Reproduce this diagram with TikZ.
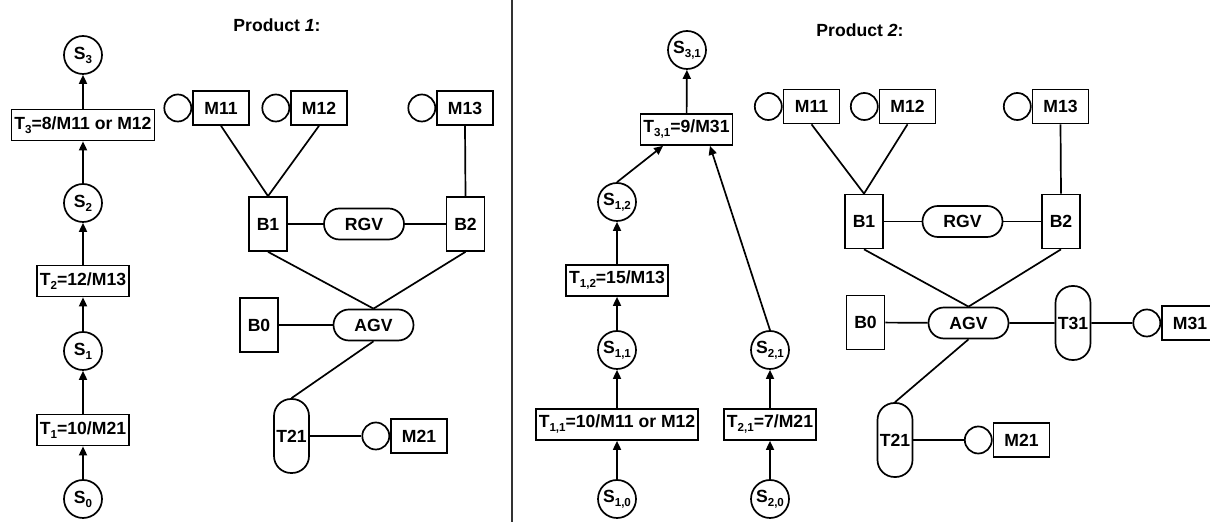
\documentclass[tikz,border=0pt]{standalone}
\usepackage{fontspec}
\setmainfont{Liberation Sans}
\usepackage{tikz}
\usetikzlibrary{arrows.meta, positioning, calc}

\newcommand{\lowsub}[1]{\raisebox{-2pt}{\fontsize{5.8}{5.8}\selectfont #1}}

\tikzset{
  state/.style={draw, circle, minimum size=19pt, inner sep=0pt},
  task/.style={draw, rectangle, inner xsep=1.5pt, inner ysep=0pt, minimum height=15.5pt},
  mach/.style={draw, rectangle, minimum width=28pt, minimum height=17pt, inner sep=0pt},
  ring/.style={draw, circle, minimum size=13.5pt, inner sep=0pt},
  buf/.style={draw, rectangle, minimum width=19pt, minimum height=27pt, inner sep=0pt},
  vehicle/.style={draw, rounded corners=7.7pt, minimum width=40pt, minimum height=15.5pt, inner sep=0pt},
  tower/.style={draw, rounded corners=8.5pt, minimum width=17.5pt, minimum height=37pt, inner sep=0pt},
  flow/.style={-{Triangle[length=4.5pt,width=4pt]}}
}

\begin{document}
\begin{tikzpicture}[x=0.5pt, y=-0.5pt, line width=0.85pt, font=\fontsize{8.8}{10}\selectfont\bfseries]
        \useasboundingbox (0,0) rectangle (1210,522);

        % Product 1: operation chain
        \node[state] (s3) at (83, 55) {S\lowsub{3}};
        \node[task] (t3) at (83, 125) {T\lowsub{3}=8/M11 or M12};
        \node[state] (s2) at (83, 203) {S\lowsub{2}};
        \node[task] (t2) at (83, 281) {T\lowsub{2}=12/M13};
        \node[state] (s1) at (83, 351) {S\lowsub{1}};
        \node[task] (t1) at (83, 430) {T\lowsub{1}=10/M21};
        \node[state] (s0) at (83, 499) {S\lowsub{0}};

        \draw[flow] (s0) -- (t1);
        \draw[flow] (t1) -- (s1);
        \draw[flow] (s1) -- (t2);
        \draw[flow] (t2) -- (s2);
        \draw[flow] (s2) -- (t3);
        \draw[flow] (t3) -- (s3);

        % Product 1: cell layout
        \node (title1) at (277, 25) {Product \textit{1}:};
        \node[mach] (am11) at (221, 108) {M11};
        \node[ring, left=0pt of am11] (ar11) {};
        \node[mach] (am12) at (319, 108) {M12};
        \node[ring, left=0pt of am12] (ar12) {};
        \node[mach] (am13) at (465, 108) {M13};
        \node[ring, left=0pt of am13] (ar13) {};
        \node[buf] (ab1) at (268, 224) {B1};
        \node[vehicle] (argv) at (364, 224) {RGV};
        \node[buf] (ab2) at (465.5, 224) {B2};
        \node[buf] (ab0) at (259, 325) {B0};
        \node[vehicle] (aagv) at (373.5, 325) {AGV};
        \node[tower] (at21) at (291.5, 436) {T21};
        \node[mach] (am21) at (419, 436) {M21};
        \node[ring, left=0pt of am21] (ar21) {};

        \draw (am11.south) -- (ab1.north);
        \draw (am12.south) -- (ab1.north);
        \draw (am13.south) -- (ab2.north);
        \draw (ab1) -- (argv) -- (ab2);
        \draw (ab1.south) -- (aagv.north);
        \draw (ab2.south) -- (aagv.north);
        \draw (ab0) -- (aagv);
        \draw (aagv.south) -- (at21.north);
        \draw (at21) -- (ar21);

        % separator
        \draw[line width=0.6pt, black!80] (512, 0) -- (512, 522);

        % Product 2: operation chains
        \node[state] (s31) at (687, 50) {S\lowsub{3,1}};
        \node[task] (t31) at (686.5, 129.5) {T\lowsub{3,1}=9/M31};
        \node[state] (s12) at (617, 202) {S\lowsub{1,2}};
        \node[task] (t12) at (617, 280.5) {T\lowsub{1,2}=15/M13};
        \node[state] (s11) at (617, 350) {S\lowsub{1,1}};
        \node[task] (t11) at (617, 424.5) {T\lowsub{1,1}=10/M11 or M12};
        \node[state] (s10) at (617, 499) {S\lowsub{1,0}};
        \node[state] (s21) at (770, 350) {S\lowsub{2,1}};
        \node[task] (t21) at (770, 424.5) {T\lowsub{2,1}=7/M21};
        \node[state] (s20) at (770, 499) {S\lowsub{2,0}};

        \draw[flow] (s10) -- (t11);
        \draw[flow] (t11) -- (s11);
        \draw[flow] (s11) -- (t12);
        \draw[flow] (t12) -- (s12);
        \draw[flow] (s12.north) -- ($(t31.south)!0.5!(t31.south west)$);
        \draw[flow] (s20) -- (t21);
        \draw[flow] (t21) -- (s21);
        \draw[flow] (s21.north) -- ($(t31.south)!0.5!(t31.south east)$);
        \draw[flow] (t31) -- (s31);

        % Product 2: cell layout
        \node (title2) at (860, 30) {Product \textit{2}:};
        \node[mach] (bm11) at (811.5, 106.5) {M11};
        \node[ring, left=0pt of bm11] (br11) {};
        \node[mach] (bm12) at (907.5, 106.5) {M12};
        \node[ring, left=0pt of bm12] (br12) {};
        \node[mach] (bm13) at (1060.5, 106.5) {M13};
        \node[ring, left=0pt of bm13] (br13) {};
        \node[buf] (bb1) at (864, 221.5) {B1};
        \node[vehicle] (brgv) at (962.5, 221.5) {RGV};
        \node[buf] (bb2) at (1061, 221.5) {B2};
        \node[buf] (bb0) at (865.5, 322.5) {B0};
        \node[vehicle] (bagv) at (968.5, 323) {AGV};
        \node[tower] (bt31) at (1073, 323) {T31};
        \node[mach] (bm31) at (1190, 323) {M31};
        \node[ring, left=0pt of bm31] (br31) {};
        \node[tower] (bt21) at (895, 440) {T21};
        \node[mach] (bm21) at (1021.5, 440) {M21};
        \node[ring, left=0pt of bm21] (br21) {};

        \draw (bm11.south) -- (bb1.north);
        \draw (bm12.south) -- (bb1.north);
        \draw (bm13.south) -- (bb2.north);
        \draw (bb1) -- (brgv) -- (bb2);
        \draw (bb1.south) -- (bagv.north);
        \draw (bb2.south) -- (bagv.north);
        \draw (bb0) -- (bagv) -- (bt31) -- (br31);
        \draw (bagv.south) -- (bt21.north);
        \draw (bt21) -- (br21);
    \end{tikzpicture}
\end{document}
